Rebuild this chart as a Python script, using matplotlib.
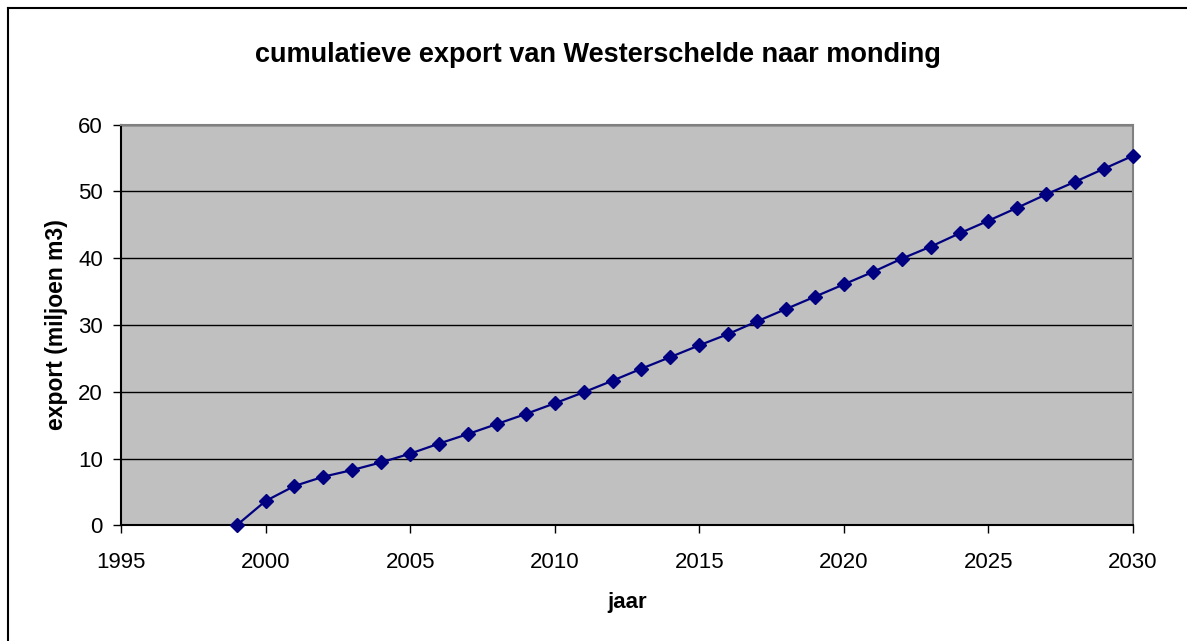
import numpy as np
import matplotlib
matplotlib.use('Agg')
import matplotlib.pyplot as plt
from matplotlib.lines import Line2D

# cumulative export per year (million m3)
years = list(range(1999, 2031))
export = [0.0, 3.64, 5.89, 7.28, 8.28, 9.43, 10.73, 12.24,
          13.67, 15.17, 16.67, 18.27, 19.92, 21.66, 23.46, 25.20,
          26.96, 28.65, 30.55, 32.40, 34.24, 36.09, 37.94, 39.93,
          41.73, 43.73, 45.62, 47.57, 49.57, 51.46, 53.41, 55.35]
xticks = list(range(1995, 2031, 5))
yticks = list(range(0, 61, 10))

plt.rcParams['font.family'] = ['Liberation Sans', 'DejaVu Sans']

fig = plt.figure(figsize=(11.87, 6.41), dpi=100)
ax = fig.add_axes([121 / 1187, 1 - 525.3 / 641, 1012 / 1187, 400.6 / 641])
ax.set_facecolor('#c0c0c0')

ax.plot(years, export, color='#000080', lw=1.6, marker='D', ms=7,
        clip_on=False, zorder=3)

ax.set_xlim(1995, 2030)
ax.set_ylim(0, 60)
ax.set_xticks(xticks)
ax.set_yticks(yticks)
ax.tick_params(direction='out', length=6, width=1, labelsize=16)
ax.tick_params(axis='x', pad=13)
ax.tick_params(axis='y', pad=7)
ax.yaxis.grid(True, color='black', lw=1)
ax.set_axisbelow(True)

ax.spines['left'].set_color('black')
ax.spines['bottom'].set_color('black')
ax.spines['top'].set_color('#808080')
ax.spines['right'].set_color('#808080')
for s in ax.spines.values():
    s.set_linewidth(1.5)

ax.set_xlabel('jaar', fontsize=16, fontweight='bold', labelpad=14)
ax.set_ylabel('export (miljoen m3)', fontsize=16.5, fontweight='bold', labelpad=7)
fig.text(598 / 1187, 1 - 55 / 641, 'cumulatieve export van Westerschelde naar monding',
         ha='center', va='center', fontsize=19.5, fontweight='bold')

# chart border
fig.add_artist(Line2D([7.5 / 1187, 7.5 / 1187], [0, 1 - 7.5 / 641],
                      transform=fig.transFigure, color='black', lw=1.5))
fig.add_artist(Line2D([7.5 / 1187, 1], [1 - 7.5 / 641, 1 - 7.5 / 641],
                      transform=fig.transFigure, color='black', lw=1.5))

fig.savefig('out.png', dpi=100)
